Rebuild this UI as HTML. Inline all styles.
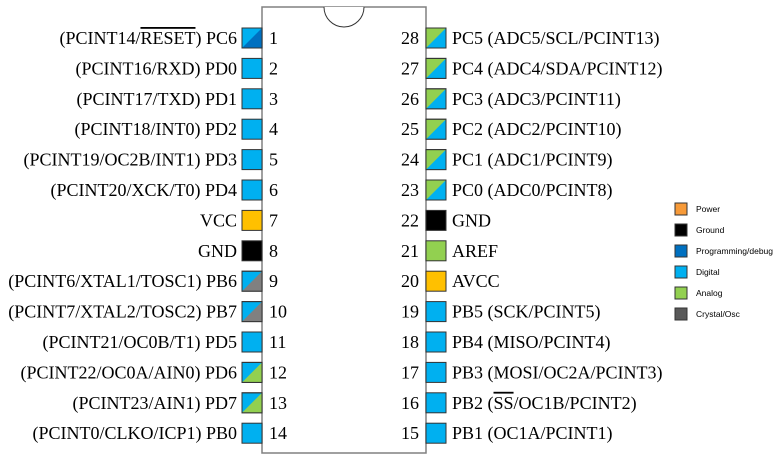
<!DOCTYPE html>
<html><head><meta charset="utf-8"><style>body{margin:0;background:#fff}svg{display:block}</style></head><body>
<svg width="780" height="462" xmlns="http://www.w3.org/2000/svg" font-family="Liberation Serif, serif" font-size="18">
<rect x="262" y="7" width="164" height="446" fill="#fff" stroke="#808080" stroke-width="1.5"/>
<path d="M324 7 A20 20 0 0 0 364 7" fill="#fff" stroke="#333" stroke-width="1"/>
<g id="pins" stroke="#333" stroke-width="1"></g>
<g id="txt"></g>
<g font-family="Liberation Sans, sans-serif" font-size="8.5">
<rect x="675" y="203" width="12" height="12" fill="#f79a38" stroke="#333"/><text x="696" y="212">Power</text>
<rect x="675" y="224" width="12" height="12" fill="#000" stroke="#333"/><text x="696" y="233">Ground</text>
<rect x="675" y="245" width="12" height="12" fill="#0070c0" stroke="#333"/><text x="696" y="254">Programming/debug</text>
<rect x="675" y="266" width="12" height="12" fill="#00b0f0" stroke="#333"/><text x="696" y="275">Digital</text>
<rect x="675" y="287" width="12" height="12" fill="#92d050" stroke="#333"/><text x="696" y="296">Analog</text>
<rect x="675" y="308" width="12" height="12" fill="#595959" stroke="#333"/><text x="696" y="317">Crystal/Osc</text>
</g>
</svg>
<script>
const B='#00b0f0',G='#92d050',D='#0070c0',Y='#ffc000',K='#000',R='#808080';
const L=[['(PCINT14/<tspan text-decoration="overline">RESET</tspan>) PC6',B,D],['(PCINT16/RXD) PD0',B],['(PCINT17/TXD) PD1',B],['(PCINT18/INT0) PD2',B],['(PCINT19/OC2B/INT1) PD3',B],['(PCINT20/XCK/T0) PD4',B],['VCC',Y],['GND',K],['(PCINT6/XTAL1/TOSC1) PB6',B,R],['(PCINT7/XTAL2/TOSC2) PB7',B,R],['(PCINT21/OC0B/T1) PD5',B],['(PCINT22/OC0A/AIN0) PD6',B,G],['(PCINT23/AIN1) PD7',B,G],['(PCINT0/CLKO/ICP1) PB0',B]];
const Rr=[['PC5 (ADC5/SCL/PCINT13)',G,B],['PC4 (ADC4/SDA/PCINT12)',G,B],['PC3 (ADC3/PCINT11)',G,B],['PC2 (ADC2/PCINT10)',G,B],['PC1 (ADC1/PCINT9)',G,B],['PC0 (ADC0/PCINT8)',G,B],['GND',K],['AREF',G],['AVCC',Y],['PB5 (SCK/PCINT5)',B],['PB4 (MISO/PCINT4)',B],['PB3 (MOSI/OC2A/PCINT3)',B],['PB2 (<tspan text-decoration="overline">SS</tspan>/OC1B/PCINT2)',B],['PB1 (OC1A/PCINT1)',B]];
let p='',t='';
function box(x,y,c1,c2){p+=`<rect x="${x}" y="${y}" width="20" height="20" fill="${c1}"/>`;if(c2)p+=`<path d="M${x+20} ${y} L${x+20} ${y+20} L${x} ${y+20} Z" fill="${c2}" stroke="none"/><rect x="${x}" y="${y}" width="20" height="20" fill="none"/>`;}
L.forEach((a,i)=>{const y=28+i*30.4;box(242,y,a[1],a[2]);t+=`<text x="237" y="${y+16}" text-anchor="end">${a[0]}</text><text x="269" y="${y+16}">${i+1}</text>`;});
Rr.forEach((a,i)=>{const y=28+i*30.4;box(426,y,a[1],a[2]);t+=`<text x="452" y="${y+16}">${a[0]}</text><text x="419" y="${y+16}" text-anchor="end">${28-i}</text>`;});
document.getElementById('pins').innerHTML=p;document.getElementById('txt').innerHTML=t;
</script>
</body></html>
